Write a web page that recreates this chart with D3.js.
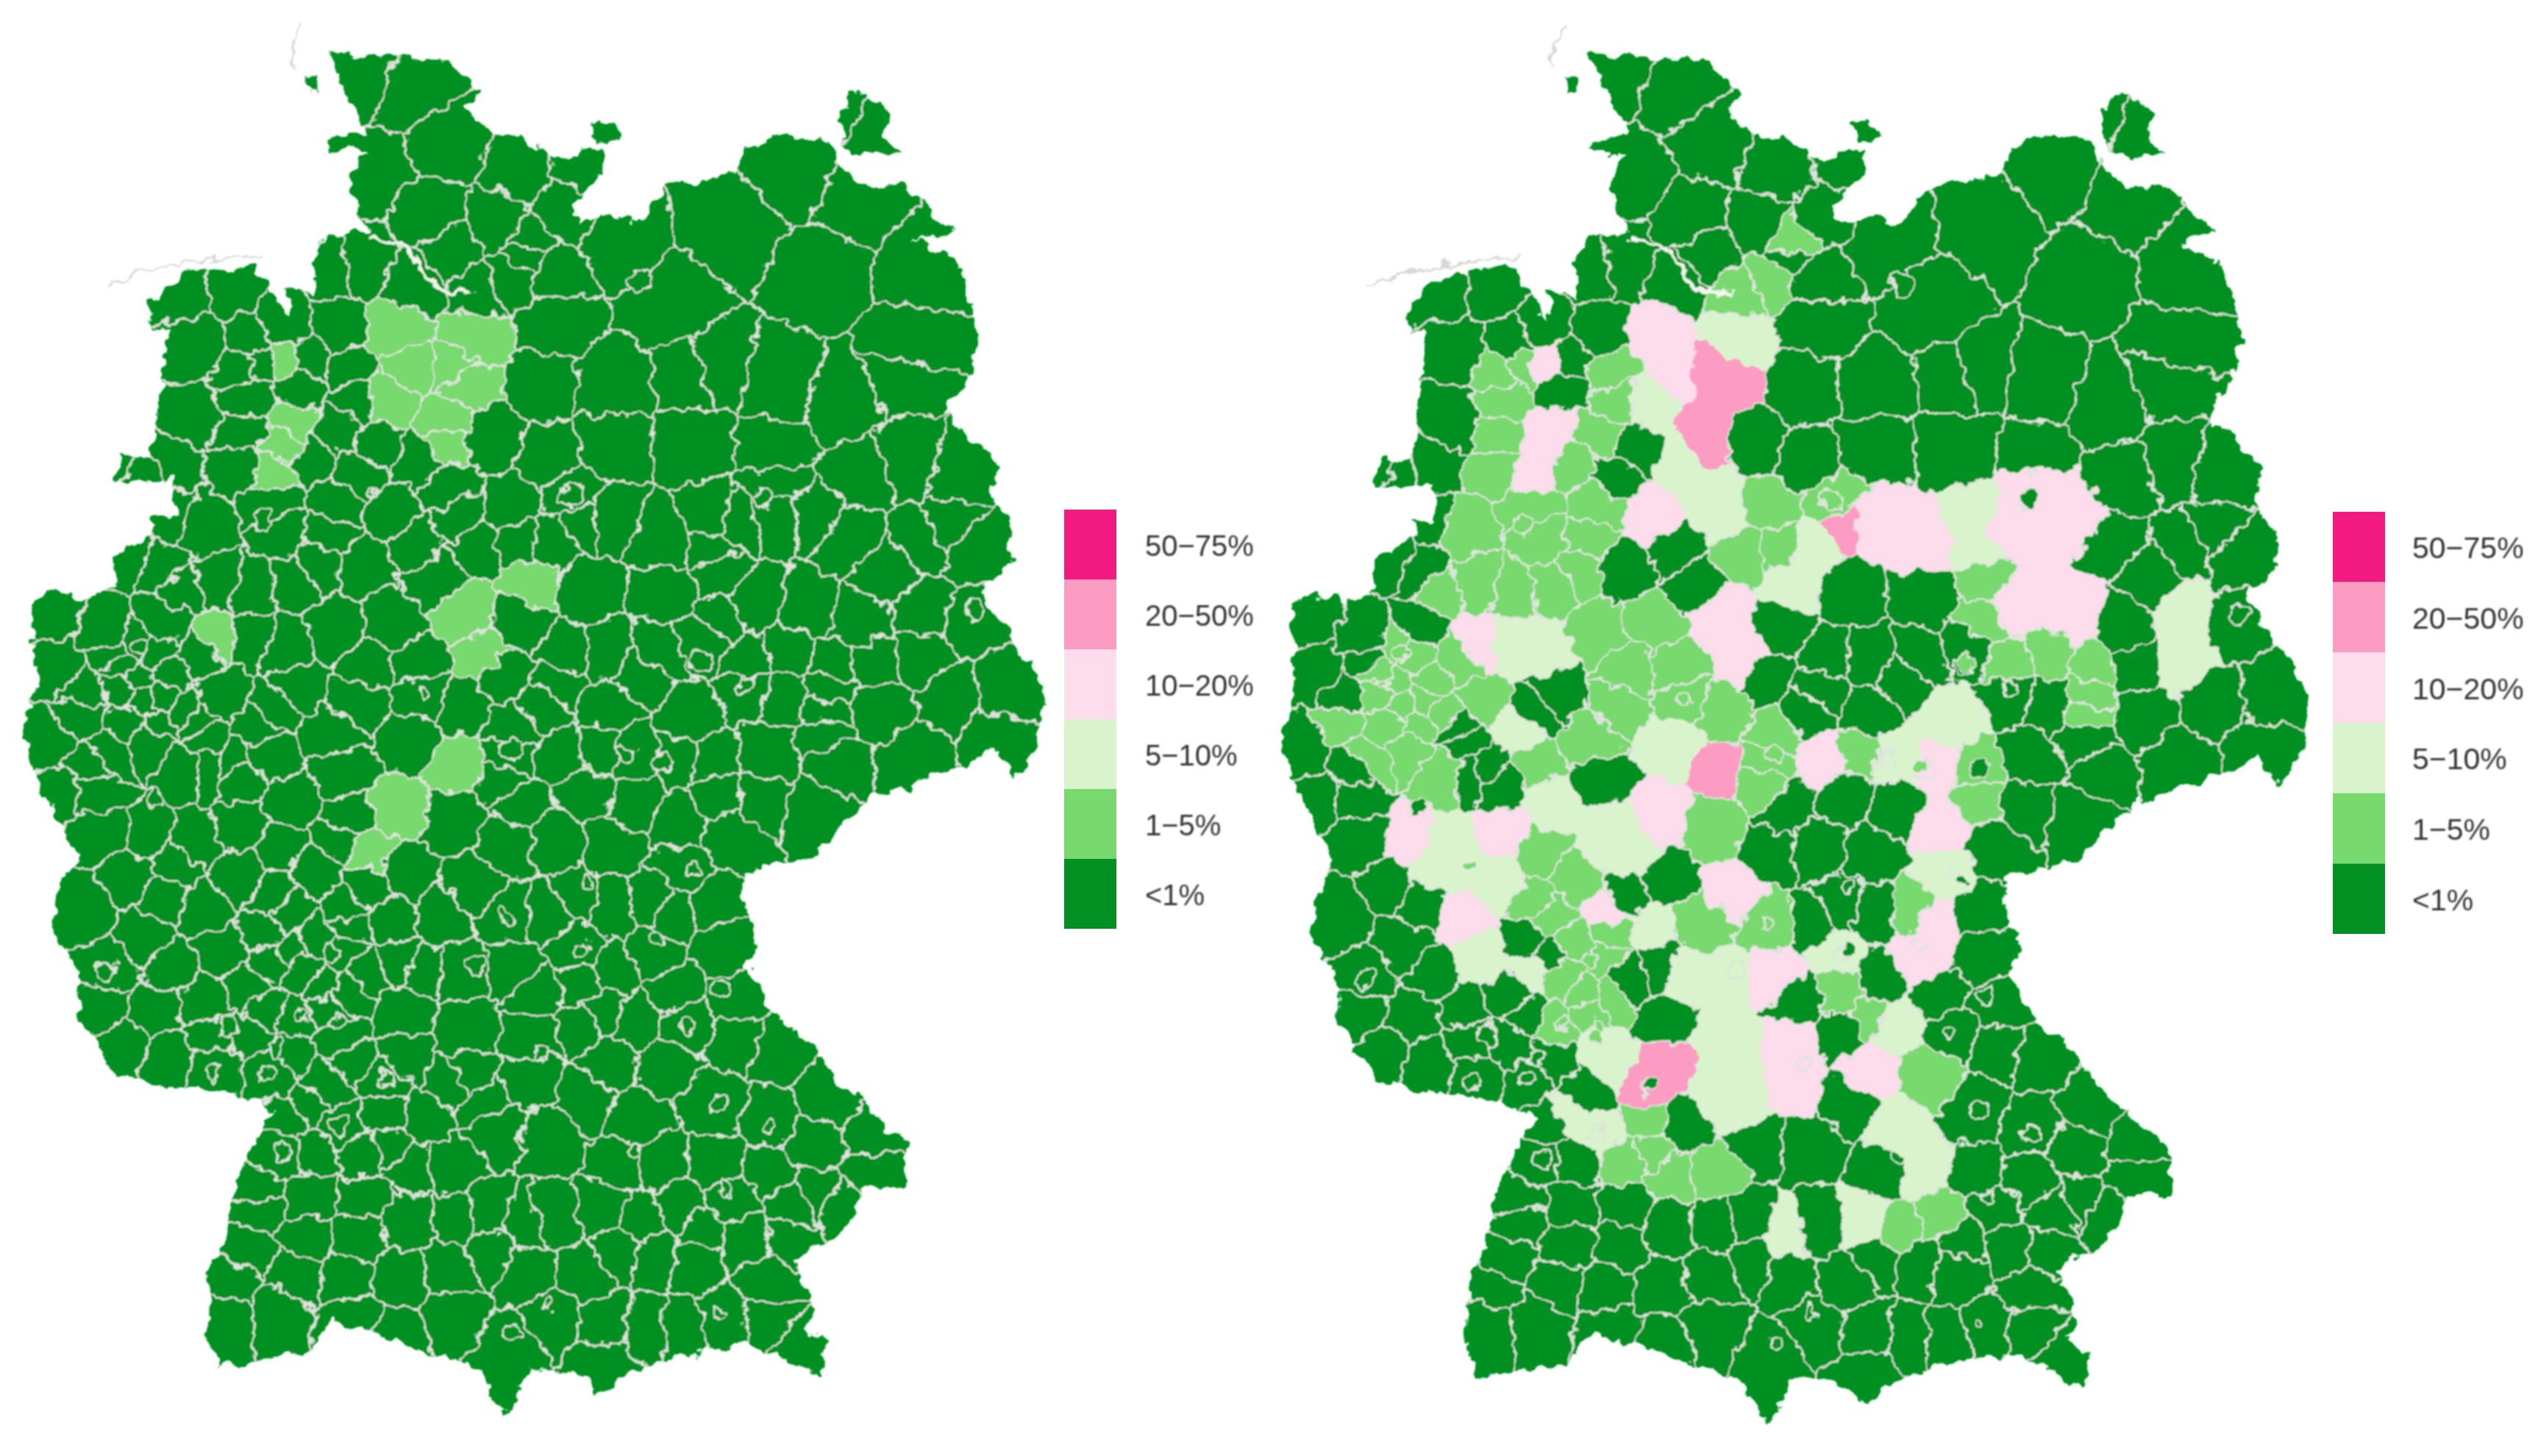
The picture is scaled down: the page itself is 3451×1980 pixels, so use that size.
<!DOCTYPE html>
<html>
<head>
<meta charset="utf-8">
<script src="https://cdn.jsdelivr.net/npm/d3@7"></script>
<style>
  html, body { margin: 0; background: #fff; }
</style>
</head>
<body>
<div id="chart"></div>
<script>
// legend, top band first
var bandLabels = ["50−75%", "20−50%", "10−20%", "5−10%", "1−5%", "<1%"];
var bandColors = ["#f21a80", "#fd9cc3", "#fddcec", "#d9f4cd", "#78d96e", "#039023"];

// map units
var outline = [[202,32],[235,36],[270,36],[298,57],[287,67],[309,86],[322,84],[346,99],[362,92],[372,92],[372,107],[352,128],[361,138],[378,132],[393,139],[411,116],[456,107],[462,92],[478,84],[513,86],[517,99],[535,117],[555,112],[561,116],[572,128],[589,142],[565,148],[593,162],[604,209],[600,232],[583,255],[617,287],[613,307],[624,325],[626,348],[607,365],[626,397],[641,415],[646,435],[641,463],[628,482],[615,463],[602,472],[539,493],[504,527],[461,538],[457,553],[470,582],[461,596],[478,628],[504,648],[517,669],[533,680],[539,689],[561,706],[561,733],[535,733],[522,761],[491,779],[504,811],[498,822],[511,831],[507,851],[491,843],[461,831],[413,840],[391,848],[370,862],[357,848],[328,848],[313,875],[296,847],[270,837],[239,828],[204,817],[191,835],[152,843],[135,844],[128,828],[130,785],[139,764],[148,724],[170,686],[143,675],[96,669],[72,663],[48,625],[50,608],[33,573],[39,544],[48,530],[22,480],[15,458],[22,420],[20,371],[33,364],[52,370],[72,362],[70,345],[96,328],[93,320],[109,319],[107,296],[72,299],[74,281],[93,283],[100,232],[104,203],[93,203],[93,186],[117,168],[157,164],[170,186],[180,197],[178,177],[196,183],[193,162],[204,145],[230,142],[220,133],[217,107],[226,93],[202,93],[204,87],[228,81],[217,64]];
var islands = [
  [[189,47],[197,48],[197,56],[190,57]],
  [[368,88],[366,76],[374,74],[385,84],[375,88]],
  [[524,58],[535,57],[550,70],[546,84],[557,96],[540,96],[522,92],[519,80]]
];
var elbeLine = [[230,146],[250,152],[262,170],[272,178],[292,181]];
var frisianLine = [[67,177],[90,168],[125,161],[161,157]];
var syltLine = [[187,17],[181,28],[181,42]];

// district centres, grouped by band on the right map
var band0 = [[222,43],[257,55],[230,110],[278,87],[322,104],[361,101],[265,133],[309,139],[278,157],[343,171],[324,157],[348,130],[383,151],[452,139],[491,107],[530,125],[509,168],[572,165],[413,188],[565,215],[439,229],[483,238],[520,249],[561,232],[565,284],[343,197],[336,239],[377,239],[377,274],[430,232],[430,275],[478,281],[530,296],[591,290],
  [205,165],[257,175],[224,161],[141,177],[115,179],[175,202],[192,222],[122,214],[156,212],[186,239],[209,205],[119,258],[89,292],[104,285],[74,285],[81,343],[100,350],[104,320],
  [302,271],[340,283],[231,276],[220,292],[524,331],[572,336],[550,354],[600,340],[587,328],[257,338],[224,350],[269,357],[362,366],[411,366],[321,384],[351,405],[374,405],[407,403],[434,396],[464,425],[485,432],[530,386],[600,383],[539,409],[622,426],[587,429],[543,438],[509,453],
  [32,377],[66,391],[100,384],[36,414],[51,428],[70,405],[29,458],[126,456],[182,426],[171,437],[310,416],[336,437],[374,437],[347,423],[396,416],[212,479],[141,472],[122,449],
  [617,460],[565,469],[517,472],[474,466],[470,495],[504,501],[452,518],[36,491],[59,491],[62,514],[59,472],[130,474],[149,481],
  [323,497],[362,488],[392,495],[314,523],[343,520],[377,525],[250,541],[227,550],[340,567],[359,555],[377,560],[441,560],[164,576],[181,587],[227,601],[246,594],[250,626],[332,615],[381,601],[359,633],[448,585],[457,617],
  [51,564],[81,543],[100,555],[89,580],[66,599],[107,599],[62,622],[96,624],[126,620],[154,610],[130,640],[77,647],[104,654],[134,659],[167,661],[201,670],[179,691],[194,712],[175,712],[160,739],[165,625],[155,640],[180,650],
  [362,679],[261,691],[306,698],[340,702],[385,719],[424,631],[417,614],[457,643],[478,648],[443,682],[474,692],[513,680],[539,703],[443,721],[474,724],[504,706],[504,738],[539,724],[522,747],[491,744],[452,741],[435,761],[461,767],[487,767],
  [161,747],[191,741],[226,741],[252,753],[283,753],[343,753],[300,750],[152,773],[143,790],[183,788],[191,764],[222,764],[213,790],[248,790],[278,785],[304,773],[326,785],[361,788],[383,773],[404,776],[430,782],[474,793],
  [139,814],[170,811],[217,817],[278,814],[315,834],[343,814],[374,817],[374,843],[400,822],[422,822],[448,814],[474,814],[496,834],[248,825]];
var band1 = [[315,170],[325,149],[295,179],[214,228],[152,246],[149,228],[161,224],[149,267],[209,267],[220,246],[194,283],[149,287],[209,311],[168,311],[126,327],[175,329],[203,330],[314,315],[295,338],[355,307],[321,334],[111,363],[134,357],[156,363],[182,359],[197,350],[209,389],[242,384],[257,412],[124,405],[445,354],[445,382],[486,403],[515,410],[510,440],[512,426],[464,410],[220,433],[228,412],[137,430],[74,412],[104,417],[89,433],[49,442],[66,467],[92,458],[115,474],[84,398],[95,405],[85,420],[100,430],[75,425],[112,440],[80,445],[100,445],[287,437],[261,428],[167,467],[205,453],[317,451],[370,463],
  [310,481],[280,507],[314,467],[443,490],[441,472],[173,523],[196,539],[169,555],[179,564],[272,567],[314,567],[194,580],[216,573],[212,587],[404,557],[201,610],[188,598],[203,622],[215,612],[359,610],[374,624],[411,659],[239,689],[226,714],[242,707],[254,721],[280,721],[394,755],[420,746],[182,631]];
var band2 = [[293,207],[240,246],[276,301],[260,285],[285,320],[441,320],[441,340],[340,336],[329,361],[175,400],[155,394],[160,449],[254,458],[572,377],[569,407],[426,444],[392,467],[179,495],[216,507],[212,518],[227,525],[119,520],[107,532],[149,541],[137,587],[167,594],[242,569],[209,643],[215,655],[190,684],[284,601],[261,599],[287,636],[280,670],[298,682],[290,665],[355,585],[392,631],[422,537],[392,693],[407,719],[374,748],[325,758],[209,697]];
var band3 = [[246,205],[254,228],[175,223],[175,274],[182,262],[167,292],[242,317],[375,320],[410,335],[479,320],[505,318],[455,325],[465,372],[500,378],[479,297],[287,380],[299,405],[134,396],[347,467],[419,469],[419,509],[246,500],[94,518],[150,511],[126,564],[293,548],[317,598],[404,590],[415,564],[329,640],[329,668],[377,656],[214,562]];
var band4 = [[287,237],[280,228],[276,262],[276,274],[361,320],[282,472],[239,668],[250,654]];
var band5 = [];

// districts that read 1-5% on the left map, all others are <1%
var leftRaised = [[243,209],[254,228],[296,206],[291,235],[280,228],[239,246],[270,264],[276,274],[174,226],[176,278],[182,262],[167,292],[139,397],[283,380],[324,362],[296,409],[280,472],[246,501],[224,532]];

// small cities ringed by their county
var cityRings = [[396,174,7],[163,322,6],[472,307,6],[352,307,6],[602,377,6],[433,409,7],[461,423,5],[87,400,4],[261,429,4],[387,466,6],[409,472,6],[317,463,6],[96,495,5],[65,599,6],[141,635,6],[170,648,5],[130,663,5],[165,663,5],[239,666,5],[209,696,5],[174,712,6],[313,567,4],[359,586,4],[407,580,4],[293,596,5],[428,538,4],[363,544,4],[446,611,5],[424,634,4],[335,651,5],[443,682,5],[476,696,5],[393,711,4],[448,734,4],[339,806,3],[317,824,5],[443,812,3],[204,588,5],[187,628,4],[209,631,4]];
// cities that differ from their county on the right map: x, y, r, band index
var rightCities = [[435,407,6,4],[241,666,5,5],[209,638,4,4],[130,532,3,4],[362,584,3,5],[432,539,3,5],[98,494,5,5],[443,472,5,5],[407,470,4,4],[475,306,6,5]];

var width = 3451, height = 1980;
var svg = d3.select("#chart").append("svg")
    .attr("width", width)
    .attr("height", height)
    .style("display", "block");

var defs = svg.append("defs");
// rough edges like the digitised boundaries, then a soft upscale blur
var rough = defs.append("filter").attr("id", "rough")
    .attr("filterUnits", "userSpaceOnUse")
    .attr("x", 0).attr("y", 0).attr("width", width).attr("height", height);
rough.append("feTurbulence").attr("type", "fractalNoise").attr("baseFrequency", 0.045)
    .attr("numOctaves", 3).attr("seed", 4).attr("result", "noise");
rough.append("feDisplacementMap").attr("in", "SourceGraphic").attr("in2", "noise")
    .attr("scale", 24).attr("xChannelSelector", "R").attr("yChannelSelector", "G").attr("result", "moved");
rough.append("feGaussianBlur").attr("in", "moved").attr("stdDeviation", 1.3);
var soft = defs.append("filter").attr("id", "soft");
soft.append("feGaussianBlur").attr("stdDeviation", 0.9);

var bandGroups = [band5, band4, band3, band2, band1, band0];
var seeds = [], seedBand = [];
bandGroups.forEach(function(list, i) {
  list.forEach(function(p) { seeds.push(p); seedBand.push(i); });
});
var delaunay = d3.Delaunay.from(seeds);
var voronoi = delaunay.voronoi([0, 0, 700, 900]);
var raisedIdx = new Set(leftRaised.map(function(p) { return delaunay.find(p[0], p[1]); }));

var colorOf = d3.scaleOrdinal().domain(d3.range(6)).range(bandColors);
var leftBand = function(i) { return raisedIdx.has(i) ? 4 : 5; };
var rightBand = function(i) { return seedBand[i]; };

var panels = [
  { id: "left", band: leftBand,
    x: d3.scaleLinear().domain([0, 700]).range([0, 1540]),
    y: d3.scaleLinear().domain([0, 900]).range([0, 1980]),
    legendX: 1447, legendY: [693, 1263], textX: 1557, fontSize: 40 },
  { id: "right", band: rightBand,
    x: d3.scaleLinear().domain([0, 700]).range([1711.6, 3259.4]),
    y: d3.scaleLinear().domain([0, 900]).range([0, 1993.9]),
    legendX: 3172, legendY: [696, 1270], textX: 3280, fontSize: 41 }
];

var border = "#dde5da";

panels.forEach(function(p) {
  var line = d3.line().x(function(d) { return p.x(d[0]); }).y(function(d) { return p.y(d[1]); });

  defs.append("clipPath").attr("id", "clip-" + p.id)
    .selectAll("path").data([outline].concat(islands)).enter().append("path")
      .attr("d", function(d) { return line(d) + "Z"; });

  var g = svg.append("g").attr("filter", "url(#rough)");
  var inner = g.append("g").attr("clip-path", "url(#clip-" + p.id + ")");

  inner.selectAll("path.cell")
    .data(seeds.map(function(d, i) { return i; }))
    .enter().append("path")
      .attr("class", "cell")
      .attr("d", function(i) { return line(voronoi.cellPolygon(i)); })
      .attr("fill", function(i) { return colorOf(p.band(i)); })
      // pale and pink counties hide their shared borders, the greens drawn later keep theirs
      .attr("stroke", function(i) { return p.band(i) < 4 ? colorOf(p.band(i)) : border; })
      .attr("stroke-width", 2.8);

  inner.selectAll("circle.city")
    .data(cityRings)
    .enter().append("circle")
      .attr("class", "city")
      .attr("cx", function(d) { return p.x(d[0]); })
      .attr("cy", function(d) { return p.y(d[1]); })
      .attr("r", function(d) { return d[2] * 2.2; })
      .attr("fill", function(d) { return colorOf(p.band(delaunay.find(d[0], d[1]))); })
      .attr("stroke", border)
      .attr("stroke-width", 2.8);

  if (p.id == "right") {
    inner.selectAll("circle.rcity")
      .data(rightCities)
      .enter().append("circle")
        .attr("class", "rcity")
        .attr("cx", function(d) { return p.x(d[0]); })
        .attr("cy", function(d) { return p.y(d[1]); })
        .attr("r", function(d) { return d[2] * 2.2; })
        .attr("fill", function(d) { return colorOf(d[3]); })
        .attr("stroke", border)
        .attr("stroke-width", 2);
  }

  g.append("path").attr("d", line(elbeLine))
    .attr("fill", "none").attr("stroke", "#f2f5f0").attr("stroke-width", 6);
  g.selectAll("path.coast").data([frisianLine, syltLine]).enter().append("path")
    .attr("class", "coast")
    .attr("d", line)
    .attr("fill", "none").attr("stroke", "#d5d8d2").attr("stroke-width", 3);

  // legend
  var ly = d3.scaleBand().domain(bandLabels).range(p.legendY);
  var legend = svg.append("g");
  legend.selectAll("rect").data(bandLabels).enter().append("rect")
    .attr("x", p.legendX)
    .attr("y", function(d) { return ly(d); })
    .attr("width", 71)
    .attr("height", ly.bandwidth())
    .attr("fill", function(d, i) { return bandColors[i]; });
  legend.selectAll("text").data(bandLabels).enter().append("text")
    .attr("x", p.textX)
    .attr("y", function(d) { return ly(d) + ly.bandwidth() / 2; })
    .attr("dy", "0.38em")
    .attr("font-family", "Liberation Sans, Arial, sans-serif")
    .attr("font-size", p.fontSize)
    .attr("fill", "#333")
    .attr("filter", "url(#soft)")
    .text(function(d) { return d; });
});
</script>
</body>
</html>
